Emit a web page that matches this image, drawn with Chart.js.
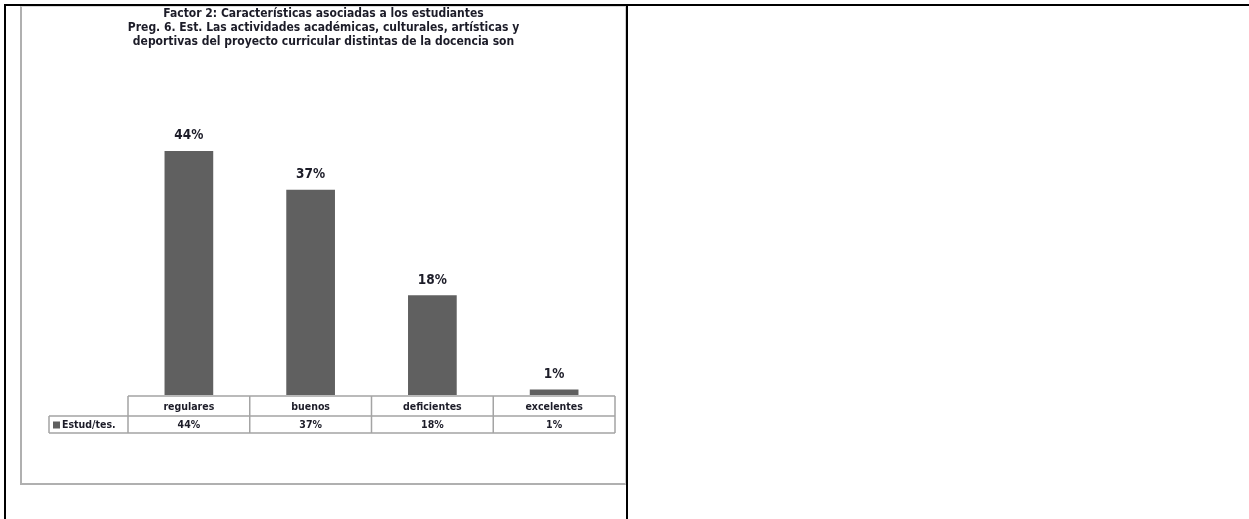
<!DOCTYPE html>
<html>
<head>
<meta charset="utf-8">
<script src="https://cdn.jsdelivr.net/npm/chart.js@4.4.1/dist/chart.umd.min.js"></script>
<style>
  html, body { margin: 0; padding: 0; background: #fff; width: 1249px; height: 519px; overflow: hidden; }
  .rule { position: absolute; background: #000; }
  #topRule { left: 4px; top: 4px; width: 1245px; height: 2px; }
  #leftRule { left: 4px; top: 4px; width: 2px; height: 515px; }
  #midRule { left: 626px; top: 4px; width: 2px; height: 515px; }
  #frame {
    position: absolute; left: 20px; top: 6px; width: 603px; height: 476px;
    border-left: 2px solid #b0b0b0; border-bottom: 2px solid #b0b0b0;
    border-top: 1px solid #d8d8d8; border-right: 1px solid #d0d0d0;
  }
  canvas { display: block; }
</style>
</head>
<body>
<div id="frame"><canvas id="myChart" width="603" height="476"></canvas></div>
<div class="rule" id="topRule"></div>
<div class="rule" id="leftRule"></div>
<div class="rule" id="midRule"></div>
<script>
const titleLines = [
  "Factor 2: Características asociadas a los estudiantes",
  "Preg. 6. Est. Las actividades académicas, culturales, artísticas y",
  "deportivas del proyecto curricular distintas de la docencia son",
];
const categories = ["regulares", "buenos", "deficientes", "excelentes"];
const seriesName = "Estud/tes.";
const shares = [44, 37, 18, 1];

const FONT = "'DejaVu Sans Condensed', 'DejaVu Sans', sans-serif";
const BAR = "#606060";
const INK = "#1c1c28";

// percent labels above each bar
const valueLabels = {
  id: "valueLabels",
  afterDatasetsDraw(chart) {
    const ctx = chart.ctx;
    const meta = chart.getDatasetMeta(0);
    ctx.save();
    ctx.font = "bold 13.5px " + FONT;
    ctx.fillStyle = INK;
    ctx.textAlign = "center";
    ctx.textBaseline = "middle";
    meta.data.forEach((bar, i) => {
      ctx.fillText(shares[i] + "%", bar.x, bar.y - 15);
    });
    ctx.restore();
  },
};

// Excel style data table under the plot
const dataTable = {
  id: "dataTable",
  afterDraw(chart) {
    const { ctx, chartArea, scales } = chart;
    const x = scales.x;
    const colW = x.width / categories.length;
    const left = x.left;
    const right = x.right;
    const top = chartArea.bottom + 1;
    const mid = top + 20;
    const bottom = mid + 17;
    const keyLeft = left - 79;

    ctx.save();
    ctx.strokeStyle = "#a4a4a4";
    ctx.lineWidth = 1.5;
    ctx.beginPath();
    ctx.moveTo(left, top); ctx.lineTo(right, top);
    ctx.moveTo(keyLeft, mid); ctx.lineTo(right, mid);
    ctx.moveTo(keyLeft, bottom); ctx.lineTo(right, bottom);
    ctx.moveTo(keyLeft, mid); ctx.lineTo(keyLeft, bottom);
    for (let i = 0; i <= categories.length; i++) {
      const cx = left + i * colW;
      ctx.moveTo(cx, top); ctx.lineTo(cx, bottom);
    }
    ctx.stroke();

    ctx.font = "bold 10.5px " + FONT;
    ctx.fillStyle = INK;
    ctx.textAlign = "center";
    ctx.textBaseline = "middle";
    categories.forEach((c, i) => {
      const cx = x.getPixelForValue(i);
      ctx.fillText(c, cx, (top + mid) / 2 + 1);
      ctx.fillText(shares[i] + "%", cx, (mid + bottom) / 2 + 1);
    });

    ctx.fillStyle = BAR;
    ctx.fillRect(keyLeft + 4, (mid + bottom) / 2 - 3, 7, 7);
    ctx.fillStyle = INK;
    ctx.textAlign = "left";
    ctx.fillText(seriesName, keyLeft + 13, (mid + bottom) / 2 + 1);
    ctx.restore();
  },
};

// invisible axis that only reserves a fixed width
const spacer = (w) => ({
  display: true,
  ticks: { display: false },
  grid: { display: false },
  border: { display: false },
  afterFit(scale) { scale.width = w; },
});

const ctx = document.getElementById("myChart").getContext("2d");

new Chart(ctx, {
  type: "bar",
  data: {
    labels: categories,
    datasets: [
      {
        label: seriesName,
        data: shares,
        backgroundColor: BAR,
        borderWidth: 0,
        categoryPercentage: 1,
        barPercentage: 0.4,
      },
    ],
  },
  options: {
    responsive: false,
    animation: false,
    layout: { padding: { top: 0, left: 0, right: 0, bottom: 88 } },
    scales: {
      x: { display: false },
      y: { ...spacer(106), position: "left", min: 0, max: 50 },
      yRight: { ...spacer(10), type: "linear", position: "right" },
    },
    plugins: {
      legend: { display: false },
      tooltip: { enabled: false },
      title: {
        display: true,
        text: titleLines,
        color: INK,
        font: { family: FONT, size: 12, weight: "bold", lineHeight: 14 / 12 },
        padding: { top: 0, bottom: 68.7 },
      },
    },
  },
  plugins: [valueLabels, dataTable],
});
</script>
</body>
</html>
